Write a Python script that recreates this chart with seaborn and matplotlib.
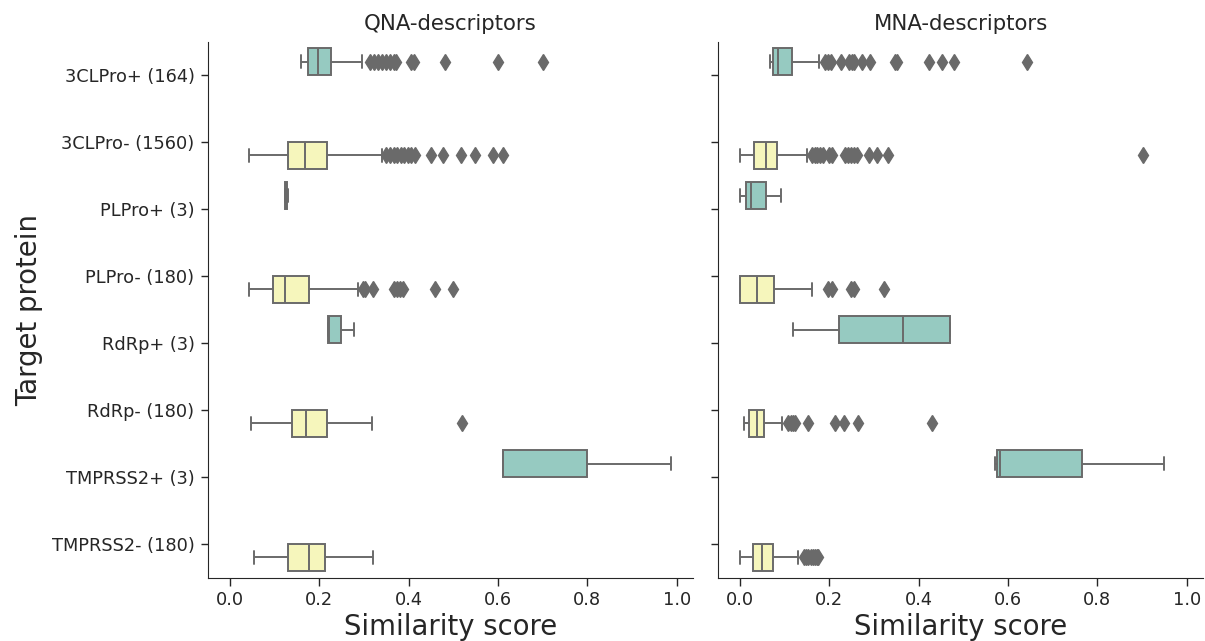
import matplotlib
matplotlib.use("Agg")
import matplotlib.pyplot as plt
import seaborn as sns
import pandas as pd

# ---------------- data ----------------
targets = ["3CLPro+ (164)", "3CLPro- (1560)", "PLPro+ (3)", "PLPro- (180)",
           "RdRp+ (3)", "RdRp- (180)", "TMPRSS2+ (3)", "TMPRSS2- (180)"]
activity = ["+", "-", "+", "-", "+", "-", "+", "-"]
descriptors = ["QNA-descriptors", "MNA-descriptors"]
hue_levels = ["+", "-"]
colors = ["#8dd3c7", "#ffffb3"]
x_ticks = [0.0, 0.2, 0.4, 0.6, 0.8, 1.0]

# QNA similarity scores
qna_3clpro_pos = [0.159, 0.160, 0.161, 0.162, 0.163, 0.164, 0.165, 0.166, 0.167, 0.168, 0.169, 0.171, 0.172, 0.174,
                  0.175, 0.176, 0.178, 0.179, 0.181, 0.182, 0.184, 0.185, 0.187, 0.189, 0.190, 0.192, 0.194, 0.196,
                  0.197, 0.199, 0.201, 0.203, 0.205, 0.207, 0.209, 0.211, 0.213, 0.215, 0.217, 0.219, 0.221, 0.223,
                  0.225, 0.295, 0.313, 0.322, 0.331, 0.340, 0.349, 0.358, 0.366, 0.371, 0.405, 0.412, 0.481, 0.600, 0.701]
qna_3clpro_neg = [0.042, 0.055, 0.064, 0.072, 0.079, 0.085, 0.091, 0.096, 0.101, 0.106, 0.110, 0.114, 0.118, 0.122, 0.125, 0.128,
                  0.130, 0.132, 0.134, 0.137, 0.139, 0.141, 0.144, 0.146, 0.149, 0.151, 0.154, 0.156, 0.159, 0.161, 0.163, 0.165,
                  0.167, 0.170, 0.173, 0.176, 0.179, 0.182, 0.185, 0.188, 0.191, 0.194, 0.197, 0.200, 0.203, 0.206, 0.210, 0.213,
                  0.216, 0.340, 0.350, 0.358, 0.366, 0.374, 0.382, 0.390, 0.398, 0.406, 0.414, 0.449, 0.477, 0.518, 0.549, 0.589, 0.612]
qna_plpro_pos = [0.122, 0.125, 0.129]
qna_plpro_neg = [0.042, 0.055, 0.064, 0.071, 0.077, 0.082, 0.086, 0.090, 0.093, 0.095,
                 0.097, 0.100, 0.103, 0.106, 0.109, 0.112, 0.115, 0.118, 0.120, 0.122,
                 0.124, 0.129, 0.134, 0.139, 0.144, 0.149, 0.155, 0.161, 0.166, 0.171,
                 0.176, 0.287, 0.297, 0.303, 0.319, 0.366, 0.373, 0.380, 0.388, 0.458, 0.498]
qna_rdrp_pos = [0.219, 0.221, 0.277]
qna_rdrp_neg = [0.048, 0.100, 0.139, 0.155, 0.170, 0.190, 0.216, 0.318, 0.519]
qna_tmprss2_pos = [0.610, 0.611, 0.987]
qna_tmprss2_neg = [0.053, 0.130, 0.176, 0.212, 0.319]

# MNA similarity scores
mna_3clpro_pos = [0.066, 0.066, 0.067, 0.067, 0.068, 0.068, 0.069, 0.069, 0.070, 0.070, 0.071, 0.071, 0.071, 0.072, 0.072, 0.073,
                  0.073, 0.074, 0.074, 0.075, 0.076, 0.076, 0.077, 0.078, 0.078, 0.079, 0.080, 0.080, 0.081, 0.082, 0.082, 0.083,
                  0.084, 0.086, 0.088, 0.090, 0.092, 0.094, 0.096, 0.098, 0.100, 0.102, 0.104, 0.106, 0.108, 0.110, 0.112, 0.114,
                  0.116, 0.177, 0.190, 0.197, 0.203, 0.225, 0.244, 0.250, 0.256, 0.274, 0.291, 0.347, 0.352, 0.422, 0.453, 0.479, 0.642]
mna_3clpro_neg = [0.000, 0.003, 0.005, 0.007, 0.009, 0.011, 0.013, 0.015, 0.017, 0.019, 0.021, 0.023, 0.025, 0.027, 0.028, 0.030, 0.031,
                  0.032, 0.034, 0.035, 0.037, 0.038, 0.040, 0.041, 0.043, 0.044, 0.046, 0.047, 0.049, 0.050, 0.052, 0.054, 0.055, 0.057,
                  0.058, 0.059, 0.061, 0.062, 0.064, 0.065, 0.067, 0.068, 0.070, 0.071, 0.073, 0.074, 0.076, 0.077, 0.079, 0.080, 0.082,
                  0.083, 0.150, 0.161, 0.167, 0.173, 0.179, 0.185, 0.200, 0.206, 0.234, 0.241, 0.248, 0.255, 0.261, 0.289, 0.307, 0.331, 0.901]
mna_plpro_pos = [0.000, 0.025, 0.091]
mna_plpro_neg = [0.000, 0.000, 0.000, 0.000, 0.000, 0.000, 0.000,
                 0.006, 0.012, 0.018, 0.024, 0.030, 0.037,
                 0.043, 0.050, 0.057, 0.064, 0.071, 0.077,
                 0.160, 0.196, 0.205, 0.249, 0.254, 0.323]
mna_rdrp_pos = [0.119, 0.221, 0.365, 0.471, 0.471]
mna_rdrp_neg = [0.009, 0.010, 0.011, 0.012, 0.013, 0.014, 0.016, 0.017, 0.018, 0.020,
                0.021, 0.023, 0.025, 0.026, 0.028, 0.030, 0.031, 0.033, 0.034, 0.036,
                0.037, 0.039, 0.041, 0.042, 0.044, 0.046, 0.047, 0.049, 0.051, 0.052,
                0.054, 0.095, 0.107, 0.113, 0.118, 0.123, 0.152, 0.213, 0.233, 0.265, 0.430]
mna_tmprss2_pos = [0.571, 0.581, 0.949]
mna_tmprss2_neg = [0.000, 0.004, 0.008, 0.011, 0.015, 0.018, 0.022, 0.025, 0.028,
                   0.030, 0.032, 0.035, 0.037, 0.039, 0.041, 0.044, 0.046, 0.048,
                   0.050, 0.053, 0.056, 0.058, 0.061, 0.064, 0.066, 0.069, 0.071,
                   0.074, 0.130, 0.143, 0.148, 0.153, 0.158, 0.163, 0.168, 0.172, 0.175]

qna_groups = [qna_3clpro_pos, qna_3clpro_neg, qna_plpro_pos, qna_plpro_neg,
              qna_rdrp_pos, qna_rdrp_neg, qna_tmprss2_pos, qna_tmprss2_neg]
mna_groups = [mna_3clpro_pos, mna_3clpro_neg, mna_plpro_pos, mna_plpro_neg,
              mna_rdrp_pos, mna_rdrp_neg, mna_tmprss2_pos, mna_tmprss2_neg]

rows = []
for desc, groups in zip(descriptors, [qna_groups, mna_groups]):
    for tgt, act, vals in zip(targets, activity, groups):
        for v in vals:
            rows.append({"descriptor": desc, "target": tgt, "activity": act, "score": v})
df = pd.DataFrame(rows)

# ---------------- plot ----------------
sns.set_style("ticks")
plt.rcParams["font.family"] = ["DejaVu Sans"]

W, H = 1205, 641
fig = plt.figure(figsize=(W / 100, H / 100), dpi=100)
bottom = 1 - 577.5 / H
height = (577.5 - 41.5) / H
ax1 = fig.add_axes([208 / W, bottom, 485 / W, height])
ax2 = fig.add_axes([718 / W, bottom, 485 / W, height], sharex=ax1, sharey=ax1)

line_gray = "#6a6a6a"
for ax, desc in zip([ax1, ax2], descriptors):
    sub = df[df["descriptor"] == desc]
    sns.boxplot(data=sub, x="score", y="target", hue="activity",
                order=targets, hue_order=hue_levels, palette=colors,
                dodge=True, width=0.8, saturation=0.75, linewidth=1.4,
                linecolor=line_gray, legend=False, ax=ax,
                flierprops=dict(marker="d", markersize=8,
                                markerfacecolor=line_gray,
                                markeredgecolor=line_gray))
    ax.set_title(desc, fontsize=15.3, color="0.15", pad=8)
    ax.set_xlabel("Similarity score", fontsize=19.8, color="0.15", labelpad=3)
    ax.set_xticks(x_ticks)
    ax.tick_params(labelsize=12.8, length=5.4, width=1.0, pad=4.3)
    sns.despine(ax=ax)

ax1.set_ylabel("Target protein", fontsize=19.8, color="0.15", labelpad=6)
ax2.set_ylabel("")
ax2.tick_params(axis="y", labelleft=False)

fig.savefig("out.png", dpi=100)
